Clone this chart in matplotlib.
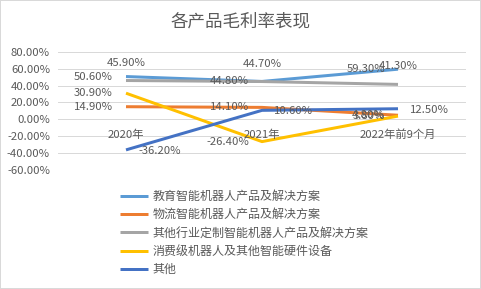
import matplotlib
matplotlib.use("Agg")
import matplotlib.pyplot as plt
from matplotlib.patches import Rectangle

plt.rcParams['font.family'] = ['Noto Sans CJK SC', 'DejaVu Sans']

categories = ["2020年", "2021年", "2022年前9个月"]
series_names = ["教育智能机器人产品及解决方案", "物流智能机器人产品及解决方案",
                "其他行业定制智能机器人产品及解决方案", "消费级机器人及其他智能硬件设备", "其他"]
edu = [50.6, 44.8, 59.3]
logistics = [14.9, 14.1, 4.8]
custom = [45.9, 44.7, 41.3]
consumer = [30.9, -26.4, 3.8]
other = [-36.2, 10.6, 12.5]
y_ticks = [80, 60, 40, 20, 0, -20, -40, -60]

series = [edu, logistics, custom, consumer, other]
colors = ["#5B9BD5", "#ED7D31", "#A5A5A5", "#FFC000", "#4472C4"]
label_pos = ["left", "left", "above", "left", "right"]

W, H = 481, 289
fig = plt.figure(figsize=(W / 72, H / 72), dpi=72)
fig.patch.set_facecolor("white")
fig.add_artist(Rectangle((0, 0), 1, 1, transform=fig.transFigure, fill=False,
                         edgecolor="#D9D9D9", linewidth=2))

left, right, top, bottom = 58, 466, 51.7, 170
ax = fig.add_axes([left / W, 1 - bottom / H, (right - left) / W, (bottom - top) / H])
ax.set_xlim(-0.5, 2.5)
ax.set_ylim(-60, 80)
ax.set_yticks(y_ticks)
ax.set_yticklabels([f"{v:.2f}%" for v in y_ticks])
ax.grid(axis="y", color="#D9D9D9", linewidth=1)
ax.set_axisbelow(True)
for s in ax.spines.values():
    s.set_visible(False)
ax.tick_params(axis="y", length=0, pad=8, labelsize=11.3, labelcolor="#595959")
ax.set_xticks([])

tc = "#595959"
fs = 11.3
xs = list(range(len(categories)))
for i, c in enumerate(categories):
    ax.annotate(c, (i, 0), xytext=(0, -15), textcoords="offset points",
                ha="center", va="center", fontsize=fs, color=tc)

lines = []
for vals, col, name, pos in zip(series, colors, series_names, label_pos):
    ln, = ax.plot(xs, vals, color=col, linewidth=3, label=name, solid_capstyle="butt")
    lines.append(ln)
    for x, v in zip(xs, vals):
        txt = f"{v:.2f}%"
        if pos == "left":
            ax.annotate(txt, (x, v), xytext=(-13, 0), textcoords="offset points",
                        ha="right", va="center", fontsize=fs, color=tc)
        elif pos == "right":
            ax.annotate(txt, (x, v), xytext=(12, -1), textcoords="offset points",
                        ha="left", va="center", fontsize=fs, color=tc)
        else:
            ax.annotate(txt, (x, v), xytext=(0, 18), textcoords="offset points",
                        ha="center", va="center", fontsize=fs, color=tc)

fig.text(0.5, 1 - 21 / H, "各产品毛利率表现", ha="center", va="center",
         fontsize=17.5, color=tc)

leg = fig.legend(handles=lines, loc="upper left", bbox_to_anchor=(120 / W, 1 - 190 / H),
                 frameon=False, fontsize=12, handlelength=2.35, handletextpad=0.33,
                 labelspacing=0.44, borderpad=0, borderaxespad=0)
for t in leg.get_texts():
    t.set_color(tc)

fig.savefig("out.png", dpi=72)
